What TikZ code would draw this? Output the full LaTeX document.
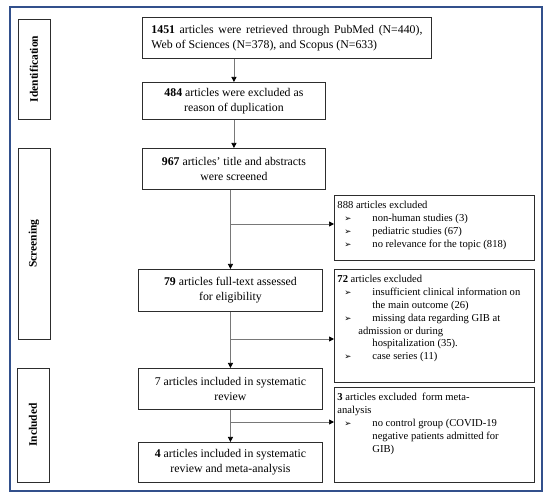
\documentclass[tikz,border=0pt]{standalone}
\usepackage{fontspec}
\setmainfont{Liberation Serif}
\newfontfamily\symfont{DejaVu Sans}
\usetikzlibrary{arrows.meta}
\definecolor{framecol}{RGB}{50,80,140}
\definecolor{boxcol}{RGB}{45,45,45}
\definecolor{linecol}{RGB}{120,120,120}
\newcommand{\bul}{{\symfont\fontsize{8.5}{10}\selectfont ➢}}
\newcommand{\itm}[1]{\hspace*{7pt}\makebox[28pt][l]{\bul}#1}
\newcommand{\cnt}[1]{\hspace*{35pt}#1}
\tikzset{
  mainbox/.style={draw=boxcol, line width=0.9pt, inner sep=0pt, align=center,
    font=\fontsize{11.8}{15}\selectfont},
  sidebox/.style={draw=boxcol, line width=0.9pt, inner sep=0pt, rotate=90,
    font=\fontsize{11.5}{13}\selectfont\bfseries},
  rbox/.style={draw=boxcol, line width=0.9pt, inner xsep=3pt, inner ysep=6pt,
    anchor=north west, font=\fontsize{10.6}{12.8}\selectfont},
  conn/.style={draw=linecol, line width=0.7pt},
  arr/.style={conn, -{Triangle[width=5pt,length=5pt,color=black]}},
  frame/.style={draw=framecol, line width=1.2pt}
}
\begin{document}
\begin{tikzpicture}[x=1pt,y=-1pt]
\useasboundingbox (0,0) rectangle (550,500);
\draw[frame] (10,7) rectangle (542,491);

% side labels
\node[sidebox, minimum width=100pt, minimum height=32pt] (s1) at (34,69) {Identification};
\node[sidebox, minimum width=191pt, minimum height=32pt] (s2) at (34,243.5) {Screening};
\node[sidebox, minimum width=114pt, minimum height=32pt] (s3) at (33,425) {Included};

% main boxes
\node[mainbox, align=left, anchor=north west, minimum width=289pt, minimum height=41pt] (b1) at (142,17)
  {\makebox[271pt][s]{\textbf{1451} articles were retrieved through PubMed (N=440),}\\Web of Sciences (N=378), and Scopus (N=633)};
\node[mainbox, anchor=north west, minimum width=183pt, minimum height=37pt] (b2) at (142,82)
  {\textbf{484} articles were excluded as\\reason of duplication};
\node[mainbox, anchor=north west, minimum width=183pt, minimum height=41pt] (b3) at (142,148)
  {\textbf{967} articles' title and abstracts\\were screened};
\node[mainbox, anchor=north west, minimum width=184pt, minimum height=42pt] (b4) at (138,269)
  {\textbf{79} articles full-text assessed\\for eligibility};
\node[mainbox, anchor=north west, minimum width=184pt, minimum height=41pt] (b5) at (138,368)
  {7 articles included in systematic\\review};
\node[mainbox, anchor=north west, minimum width=184pt, minimum height=40pt] (b6) at (138,442)
  {\textbf{4} articles included in systematic\\review and meta-analysis};

% right boxes
\node[rbox] (r1) at (334,195) {\parbox[t][53pt][t]{194pt}{%
  888 articles excluded\\
  \itm{non-human studies (3)}\\
  \itm{pediatric studies (67)}\\
  \itm{no relevance for the topic (818)}}};
\node[rbox] (r2) at (334,269) {\parbox[t][101pt][t]{194pt}{%
  \textbf{72} articles excluded\\
  \itm{insufficient clinical information on}\\
  \cnt{the main outcome (26)}\\
  \itm{missing data regarding GIB at}\\
  \hspace*{21pt}admission or during\\
  \cnt{hospitalization (35).}\\
  \itm{case series (11)}}};
\node[rbox] (r3) at (334,387) {\parbox[t][83pt][t]{194pt}{%
  \textbf{3} articles excluded\ \ form meta-\\
  analysis\\
  \itm{no control group (COVID-19}\\
  \cnt{negative patients admitted for}\\
  \cnt{GIB)}}};

% junctions
\coordinate (j1) at (230,224);
\coordinate (j2) at (230,339);
\coordinate (j3) at (230,422);

% connectors
\draw[arr] (b1.south -| b2.north) -- (b2.north);
\draw[arr] (b2.south) -- (b3.north);
\draw[arr] (b3.south -| b4.north) -- (b4.north);
\draw[arr] (j1) -- (j1 -| r1.west);
\draw[arr] (b4.south) -- (b5.north);
\draw[arr] (j2) -- (j2 -| r2.west);
\draw[arr] (b5.south) -- (b6.north);
\draw[arr] (j3) -- (j3 -| r3.west);
\end{tikzpicture}
\end{document}
